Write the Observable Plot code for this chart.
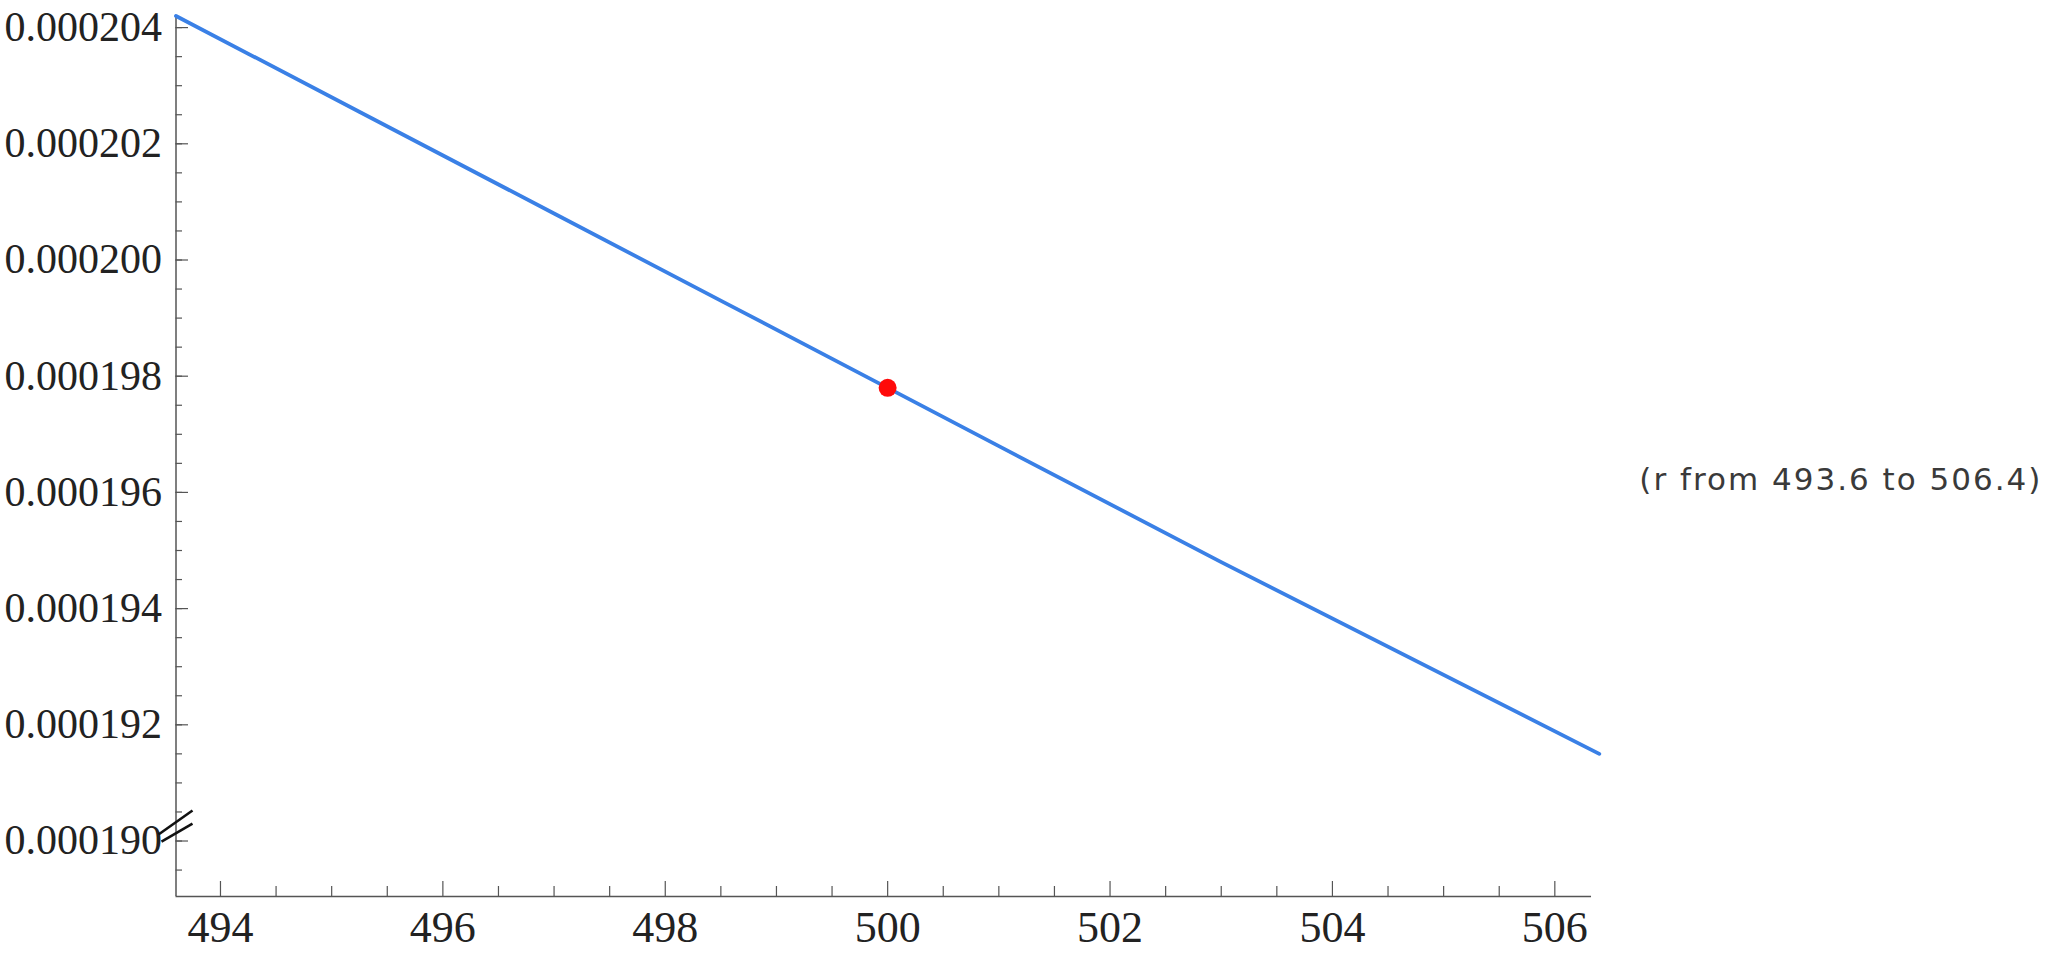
<!DOCTYPE html>
<html>
<head>
<meta charset="utf-8">
<script src="https://cdn.jsdelivr.net/npm/d3@7"></script>
<script src="https://cdn.jsdelivr.net/npm/@observablehq/plot@0.6"></script>
<style>
  html, body { margin: 0; padding: 0; background: #fff; }
  #chart { width: 2048px; height: 960px; }
</style>
</head>
<body>
<div id="chart"></div>
<script>
// ---- data ----
const rValues = [493.6, 497, 500, 503, 506.4];
const fValues = [0.0002042, 0.0002008, 0.0001978, 0.0001948, 0.0001915];
const pointR = [500];
const pointF = [0.0001978];
const xDomain = [493.6, 506.4];
const yDomain = [0.000189045, 0.0002041737];
const xTickLabels = [494, 496, 498, 500, 502, 504, 506];
const yTickLabels = [0.000190, 0.000192, 0.000194, 0.000196, 0.000198, 0.000200, 0.000202, 0.000204];
const xMinorTicks = d3.range(494, 506.41, 0.5);
const yMinorTicks = d3.range(0.0001895, 0.0002041, 0.0000005);
const annotation = "(r from 493.6 to 506.4)";

const lineData = rValues.map((r, i) => ({r, f: fValues[i]}));
const pointData = pointR.map((r, i) => ({r, f: pointF[i]}));

const W = 2048, H = 960;
const mL = 175.5, mR = 449.2, mT = 17, mB = 64;
const frameW = W - mL - mR, frameH = H - mT - mB;
const axisColor = "#555";

const plot = Plot.plot({
  width: W, height: H,
  marginLeft: mL, marginRight: mR, marginTop: mT, marginBottom: mB,
  x: {domain: xDomain},
  y: {domain: yDomain},
  style: {fontFamily: "'Liberation Serif', serif", background: "#fff", overflow: "visible"},
  marks: [
    // minor ticks
    Plot.tickX(xMinorTicks.filter(v => !xTickLabels.includes(Math.round(v*10)/10)), {x: d => d, stroke: axisColor, strokeWidth: 1.2, insetTop: frameH - 10}),
    Plot.tickX(xTickLabels, {x: d => d, stroke: axisColor, strokeWidth: 1.2, insetTop: frameH - 15}),
    Plot.tickY(yMinorTicks, {y: d => d, stroke: axisColor, strokeWidth: 1.2, insetRight: frameW - 6.5}),
    Plot.tickY(yTickLabels, {y: d => d, stroke: axisColor, strokeWidth: 1.2, insetRight: frameW - 12.5}),
    // axis lines
    Plot.ruleX([xDomain[0]], {stroke: axisColor, strokeWidth: 1.5}),
    Plot.ruleY([yDomain[0]], {stroke: axisColor, strokeWidth: 1.5, x1: xDomain[0], x2: 506.33}),
    // labels
    Plot.axisX({ticks: xTickLabels, tickSize: 0, tickPadding: 14, fontSize: 44, tickFormat: d3.format("d"), fill: "#222", label: null}),
    Plot.axisY({ticks: yTickLabels, tickSize: 0, tickPadding: 14, fontSize: 42, tickFormat: d3.format(".6f"), fill: "#222", label: null}),
    // data
    Plot.line(lineData, {x: "r", y: "f", stroke: "#3a80e6", strokeWidth: 3.8, curve: "monotone-x"}),
    Plot.dot(pointData, {x: "r", y: "f", r: 9, fill: "#ff0a0a", stroke: "none"}),
    // annotation
    Plot.text([annotation], {frameAnchor: "right", text: d => d, textAnchor: "start", dx: 40, dy: 23, fontSize: 31, fill: "#3a3a3a", fontFamily: "'DejaVu Sans', sans-serif"})
  ]
});

document.getElementById("chart").appendChild(plot);
d3.select(plot).selectAll("g[aria-label='text'] text").style("letter-spacing", "2px");

// axis break mark drawn via the library's scales
const xs = plot.scale("x"), ys = plot.scale("y");
const bx = xs.apply(xDomain[0]);
const by = ys.apply(0.000190);
const svg = d3.select(plot);
const g = svg.append("g").attr("stroke", "#111").attr("stroke-width", 2.6).attr("fill", "none");
g.append("line").attr("x1", bx - 17).attr("y1", by - 6).attr("x2", bx + 17).attr("y2", by - 30);
g.append("line").attr("x1", bx - 14).attr("y1", by + 1).attr("x2", bx + 17).attr("y2", by - 17);
</script>
</body>
</html>
